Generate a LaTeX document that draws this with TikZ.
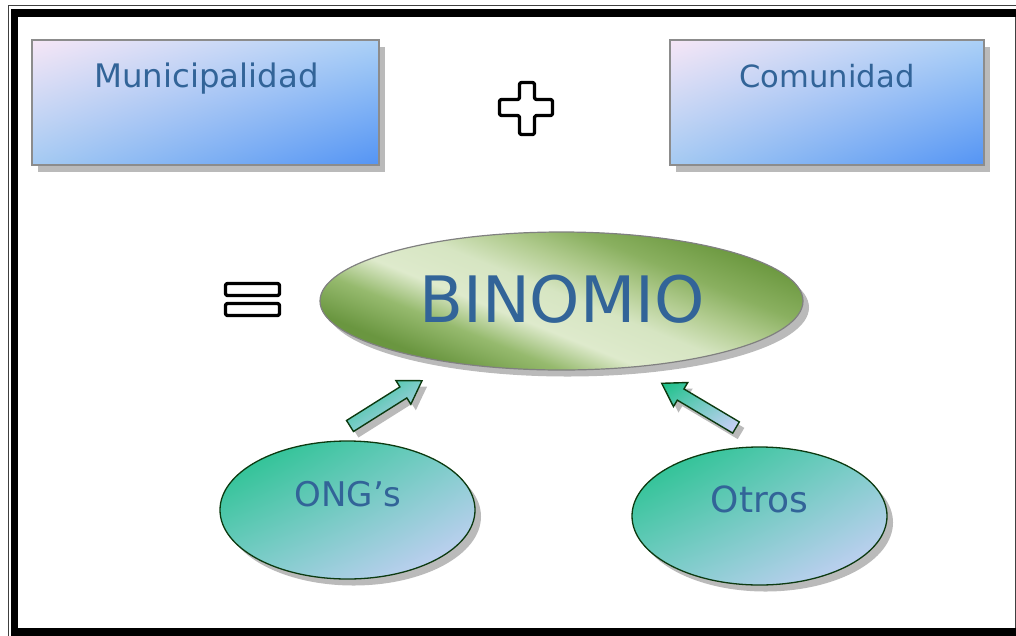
\documentclass[tikz,border=0pt]{standalone}
\usepackage{fontspec}
\setmainfont{DejaVu Sans}
\usetikzlibrary{shadows,shadings,calc,shapes.geometric}

\definecolor{txtblue}{RGB}{50,100,152}
\definecolor{boxpink}{RGB}{246,230,246}
\definecolor{boxlightA}{RGB}{170,208,246}
\definecolor{boxlightB}{RGB}{164,202,242}
\definecolor{boxdeep}{RGB}{84,148,244}
\definecolor{grdark}{RGB}{106,150,64}
\definecolor{grmed}{RGB}{150,186,110}
\definecolor{grlight}{RGB}{222,234,204}
\definecolor{grlight2}{RGB}{214,229,194}
\definecolor{grsoft}{RGB}{178,204,144}
\definecolor{grmed2}{RGB}{138,176,96}
\definecolor{grdark2}{RGB}{110,154,66}
\definecolor{teal}{RGB}{24,192,134}
\definecolor{tealmid}{RGB}{122,205,200}
\definecolor{lavender}{RGB}{214,208,255}
\definecolor{edgegreen}{RGB}{12,58,16}

\pgfdeclarehorizontalshading{leafshade}{100bp}{color(0bp)=(grdark); color(34bp)=(grdark); color(40bp)=(grmed); color(45bp)=(grlight); color(51bp)=(grlight2); color(56bp)=(grsoft); color(61bp)=(grmed2); color(67bp)=(grdark2); color(100bp)=(grdark2)}

\tikzset{
  shad/.style={drop shadow={shadow xshift=6pt, shadow yshift=-6.5pt, fill=black!27, opacity=1}},
  boxshading/.style={upper left=boxpink, upper right=boxlightA, lower left=boxlightB, lower right=boxdeep},
  poolshading/.style={upper left=teal, upper right=tealmid, lower left=tealmid, lower right=lavender},
  actorbox/.style={rectangle, draw=black!45, line width=1.2pt, boxshading, shad, inner sep=0pt},
  mainoval/.style={ellipse, fill=white, shad, inner sep=0pt},
  sideoval/.style={ellipse, draw=edgegreen, line width=1.3pt, poolshading, shad, inner sep=0pt},
  blockarrow/.style={draw=edgegreen, line width=1.4pt, line join=miter, poolshading,
    drop shadow={shadow xshift=5pt, shadow yshift=-6pt, fill=black!27, opacity=1}},
  label/.style={text=txtblue, anchor=base, inner sep=0pt},
  symbol/.style={draw=black, line width=3.2pt, rounded corners=1.5pt, line join=round}
}

\begin{document}
\begin{tikzpicture}[x=1pt,y=-1pt]
\useasboundingbox (0,0) rectangle (1016,635);
\clip (0,0) rectangle (1016,635);

% page frame: thin outer rule and heavy inner rule
\draw[black!75, line width=1pt] (8.8,5.5) rectangle (1040,660);
\draw[black, line width=7.5pt] (14.6,13) rectangle (1040,631.8);
\draw[black!75, line width=1pt] (1015,17) -- (1015,628);

% the two partners
\node[actorbox, minimum width=347pt, minimum height=125pt] (muni) at (205.5,102.5) {};
\node[label, font=\fontsize{32.4}{36}\selectfont] (munitext) at (206.5,87) {Municipalidad};
\node[actorbox, minimum width=314pt, minimum height=125pt] (comu) at (827,102.5) {};
\node[label, font=\fontsize{30.6}{36}\selectfont] (comutext) at (827,87) {Comunidad};

% plus sign
\draw[symbol] (519.5,82.5) -- (534.5,82.5) -- (534.5,99.5) -- (552.5,99.5) -- (552.5,115.5)
  -- (534.5,115.5) -- (534.5,134.5) -- (519.5,134.5) -- (519.5,115.5) -- (499.5,115.5)
  -- (499.5,99.5) -- (519.5,99.5) -- cycle;

% equals sign
\draw[symbol] (225.5,283.5) rectangle (279.5,295.5);
\draw[symbol] (225.5,303.5) rectangle (279.5,315.5);

% result: oval with a diagonal light band across it
\node[mainoval, minimum width=483pt, minimum height=138pt] (bino) at (561.5,301) {};
\begin{scope}
  \clip (bino.center) ellipse [x radius=241.5, y radius=69];
  \shade[shading=leafshade, shading angle=0, transform canvas={rotate around={68:(bino.center)}}]
    ($(bino.center)+(-160,-260)$) rectangle ($(bino.center)+(160,260)$);
\end{scope}
\draw[black!50, line width=1.2pt] (bino.center) ellipse [x radius=241.5, y radius=69];
\node[label, font=\fontsize{64}{70}\selectfont] (binotext) at (562,322) {BINOMIO};

% supporting actors
\node[sideoval, minimum width=255pt, minimum height=138pt] (ong) at (347.5,510) {};
\node[label, font=\fontsize{34}{40}\selectfont] (ongtext) at (348,506) {ONG’s};
\node[sideoval, minimum width=255pt, minimum height=138pt] (otros) at (759.5,516) {};
\node[label, font=\fontsize{36}{40}\selectfont] (otrostext) at (759.5,512) {Otros};

% block arrows pointing at the result
\coordinate (lt) at (350,426);
\coordinate (lh) at (422,380.7);
\coordinate (lb) at ($(lh)!22pt!(lt)$);
\path[blockarrow] ($(lt)!6.5pt!90:(lh)$) -- ($(lb)!6.5pt!-90:(lt)$) -- ($(lb)!14pt!-90:(lt)$)
  -- (lh) -- ($(lb)!14pt!90:(lt)$) -- ($(lb)!6.5pt!90:(lt)$) -- ($(lt)!6.5pt!-90:(lh)$) -- cycle;

\coordinate (rt) at (736,427.5);
\coordinate (rh) at (661.7,383.3);
\coordinate (rb) at ($(rh)!22pt!(rt)$);
\path[blockarrow] ($(rt)!6.5pt!90:(rh)$) -- ($(rb)!6.5pt!-90:(rt)$) -- ($(rb)!14pt!-90:(rt)$)
  -- (rh) -- ($(rb)!14pt!90:(rt)$) -- ($(rb)!6.5pt!90:(rt)$) -- ($(rt)!6.5pt!-90:(rh)$) -- cycle;
\end{tikzpicture}
\end{document}
